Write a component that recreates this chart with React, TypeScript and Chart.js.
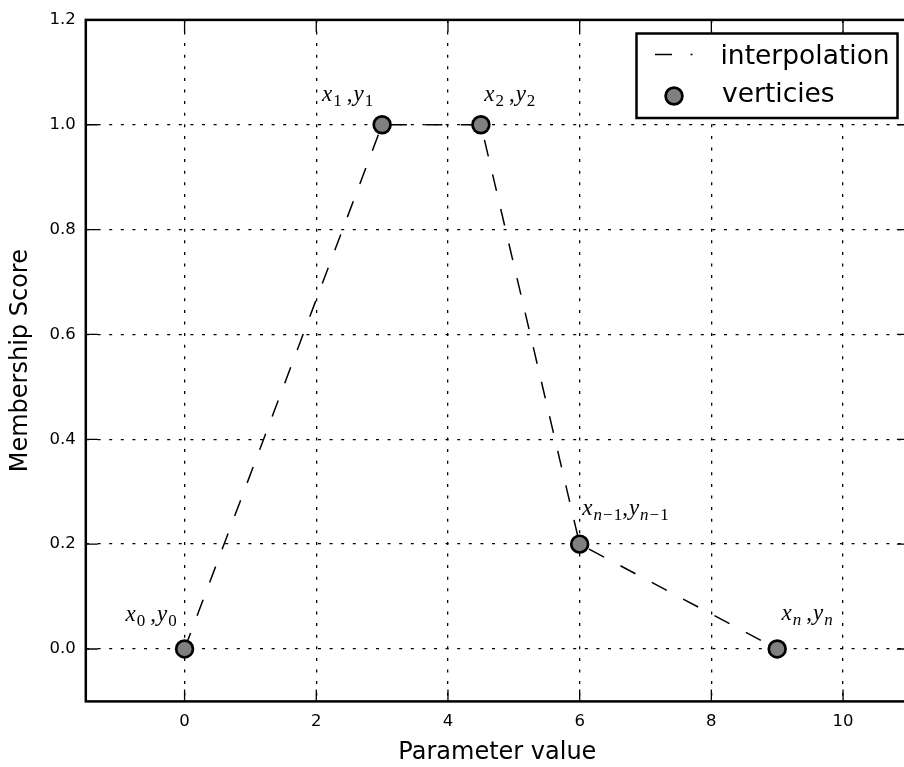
import { useEffect, useRef } from "react";
import { Chart, registerables } from "chart.js";

Chart.register(...registerables);

// Vertices of the membership function
const X_VALUES = [0, 3, 4.5, 6, 9];
const Y_VALUES = [0, 1, 1, 0.2, 0];

// Axis ranges and tick values
const X_RANGE = [-1.5, 11];
const Y_RANGE = [-0.1, 1.2];
const X_TICKS = [0, 2, 4, 6, 8, 10];
const Y_TICKS = [0, 0.2, 0.4, 0.6, 0.8, 1.0, 1.2];

// Text
const SERIES_NAMES = ["interpolation", "verticies"];
const VERTEX_SUBSCRIPTS = ["0", "1", "2", "n-1", "n"];
const X_TITLE = "Parameter value";
const Y_TITLE = "Membership Score";

// Where each vertex annotation sits relative to its vertex (pixels)
const LABEL_LAYOUT = [
  { dx: -59, dy: -28, gap: true },
  { dx: -60, dy: -24, gap: true },
  { dx: 3.3, dy: -24, gap: true },
  { dx: 2.7, dy: -29, gap: false },
  { dx: 4.3, dy: -29, gap: true },
];

const SANS = "'DejaVu Sans', sans-serif";
const SERIF = "'Liberation Serif', 'DejaVu Serif', serif";
const LINE_DASH = [17, 18.5];
const MARKER_FILL = "#808080";
const MARKER_RADIUS = 8.4;
const MARKER_BORDER = 2.7;

const CANVAS_W = 920;
const CANVAS_H = 767;

// Draws "x_s ,y_s" in a TeX-like style
function drawMathLabel(ctx: CanvasRenderingContext2D, x: number, y: number, sub: string, gap: boolean) {
  const mainSize = 23;
  const subSize = 17;
  const subShift = 5;
  let cx = x;
  const put = (text: string, font: string, dy = 0) => {
    ctx.font = font;
    ctx.fillText(text, cx, y + dy);
    cx += ctx.measureText(text).width;
  };
  const putSub = () => {
    for (const ch of sub) {
      if (ch === "-") {
        cx += 1;
        put("\u2212", `${subSize}px ${SERIF}`, subShift);
        cx += 1;
      } else if (/[a-z]/.test(ch)) put(ch, `italic ${subSize}px ${SERIF}`, subShift);
      else put(ch, `${subSize}px ${SERIF}`, subShift);
    }
  };
  put("x", `italic ${mainSize}px ${SERIF}`);
  cx += 1;
  putSub();
  if (gap) cx += 5;
  put(",", `${mainSize}px ${SERIF}`);
  cx += 1;
  put("y", `italic ${mainSize}px ${SERIF}`);
  cx += 1;
  putSub();
}

const decorations = {
  id: "decorations",
  afterDraw(chart: any) {
    const { ctx, chartArea: a, scales } = chart;
    const xs = scales.x;
    const ys = scales.y;
    ctx.save();

    // inward tick marks on all sides
    ctx.strokeStyle = "#000";
    ctx.lineWidth = 1.3;
    ctx.setLineDash([]);
    const tl = 12;
    ctx.beginPath();
    for (const v of X_TICKS) {
      const px = xs.getPixelForValue(v);
      ctx.moveTo(px, a.bottom);
      ctx.lineTo(px, a.bottom - tl);
      ctx.moveTo(px, a.top);
      ctx.lineTo(px, a.top + tl);
    }
    for (const v of Y_TICKS) {
      const py = ys.getPixelForValue(v);
      ctx.moveTo(a.left, py);
      ctx.lineTo(a.left + tl, py);
      ctx.moveTo(a.right, py);
      ctx.lineTo(a.right - tl, py);
    }
    ctx.stroke();

    // axes frame
    ctx.lineWidth = 2.5;
    ctx.strokeRect(a.left, a.top, a.right - a.left, a.bottom - a.top);

    // vertex annotations
    ctx.fillStyle = "#000";
    ctx.textBaseline = "alphabetic";
    ctx.textAlign = "left";
    X_VALUES.forEach((xv, i) => {
      const lay = LABEL_LAYOUT[i];
      const px = xs.getPixelForValue(xv) + lay.dx;
      const py = ys.getPixelForValue(Y_VALUES[i]) + lay.dy;
      drawMathLabel(ctx, px, py, VERTEX_SUBSCRIPTS[i], lay.gap);
    });

    // legend
    const bx = 636.5, by = 33.5, bw = 261, bh = 84.5;
    ctx.fillStyle = "#fff";
    ctx.fillRect(bx, by, bw, bh);
    ctx.strokeStyle = "#000";
    ctx.lineWidth = 2.5;
    ctx.strokeRect(bx, by, bw, bh);

    ctx.lineWidth = 1.5;
    ctx.setLineDash(LINE_DASH);
    ctx.beginPath();
    ctx.moveTo(655, 54.5);
    ctx.lineTo(692.5, 54.5);
    ctx.stroke();
    ctx.setLineDash([]);

    ctx.beginPath();
    ctx.arc(674, 96, MARKER_RADIUS, 0, Math.PI * 2);
    ctx.fillStyle = MARKER_FILL;
    ctx.fill();
    ctx.lineWidth = MARKER_BORDER;
    ctx.stroke();

    ctx.fillStyle = "#000";
    ctx.font = `26.5px ${SANS}`;
    ctx.fillText(SERIES_NAMES[0], 720.5, 64);
    ctx.fillText(SERIES_NAMES[1], 722, 102);

    ctx.restore();
  },
};

export default function App() {
  const ref = useRef<HTMLCanvasElement | null>(null);

  useEffect(() => {
    const canvas = ref.current;
    if (!canvas) return;
    const points = X_VALUES.map((x, i) => ({ x, y: Y_VALUES[i] }));
    const tickFont = { family: SANS, size: 16.5 };
    const titleFont = { family: SANS, size: 24 };

    const chart = new Chart(canvas, {
      type: "scatter",
      data: {
        datasets: [
          {
            label: SERIES_NAMES[0],
            data: points,
            showLine: true,
            borderColor: "#000",
            borderWidth: 1.5,
            borderDash: LINE_DASH,
            pointRadius: 0,
            pointHoverRadius: 0,
            fill: false,
            order: 2,
          },
          {
            label: SERIES_NAMES[1],
            data: points,
            showLine: false,
            pointRadius: MARKER_RADIUS,
            pointHoverRadius: MARKER_RADIUS,
            pointBackgroundColor: MARKER_FILL,
            pointBorderColor: "#000",
            pointBorderWidth: MARKER_BORDER,
            order: 1,
          },
        ],
      },
      options: {
        responsive: false,
        devicePixelRatio: 1,
        animation: false,
        events: [],
        layout: { padding: { left: 0, top: 18.6, right: 9.6, bottom: 0 } },
        plugins: {
          legend: { display: false },
          tooltip: { enabled: false },
        },
        scales: {
          x: {
            type: "linear",
            min: X_RANGE[0],
            max: X_RANGE[1],
            afterBuildTicks: (s: any) => {
              s.ticks = X_TICKS.map((value) => ({ value }));
            },
            afterFit: (s: any) => {
              s.height = 65.6;
            },
            ticks: {
              color: "#000",
              font: tickFont,
              padding: 10.3,
              maxRotation: 0,
              autoSkip: false,
              callback: (v: any) => String(v),
            },
            grid: {
              color: "#000",
              lineWidth: 1.3,
              drawTicks: false,
            },
            border: { display: false, dash: [3, 8.6] },
            title: {
              display: true,
              text: X_TITLE,
              color: "#000",
              font: titleFont,
              padding: { top: 0, bottom: 0 },
            },
          },
          y: {
            type: "linear",
            min: Y_RANGE[0],
            max: Y_RANGE[1],
            afterBuildTicks: (s: any) => {
              s.ticks = Y_TICKS.map((value) => ({ value }));
            },
            afterFit: (s: any) => {
              s.width = 85.8;
            },
            ticks: {
              color: "#000",
              font: tickFont,
              padding: 10,
              autoSkip: false,
              callback: (v: any) => Number(v).toFixed(1),
            },
            grid: {
              color: "#000",
              lineWidth: 1.3,
              drawTicks: false,
            },
            border: { display: false, dash: [3, 8.6] },
            title: {
              display: true,
              text: Y_TITLE,
              color: "#000",
              font: titleFont,
              padding: { top: 6.5, bottom: 0 },
            },
          },
        },
      },
      plugins: [decorations],
    } as any);

    return () => chart.destroy();
  }, []);

  return (
    <div
      style={{
        position: "fixed",
        left: 0,
        top: 0,
        width: 904,
        height: 767,
        overflow: "hidden",
        background: "#fff",
      }}
    >
      <canvas
        ref={ref}
        width={CANVAS_W}
        height={CANVAS_H}
        style={{ display: "block", width: CANVAS_W, height: CANVAS_H }}
      />
    </div>
  );
}
